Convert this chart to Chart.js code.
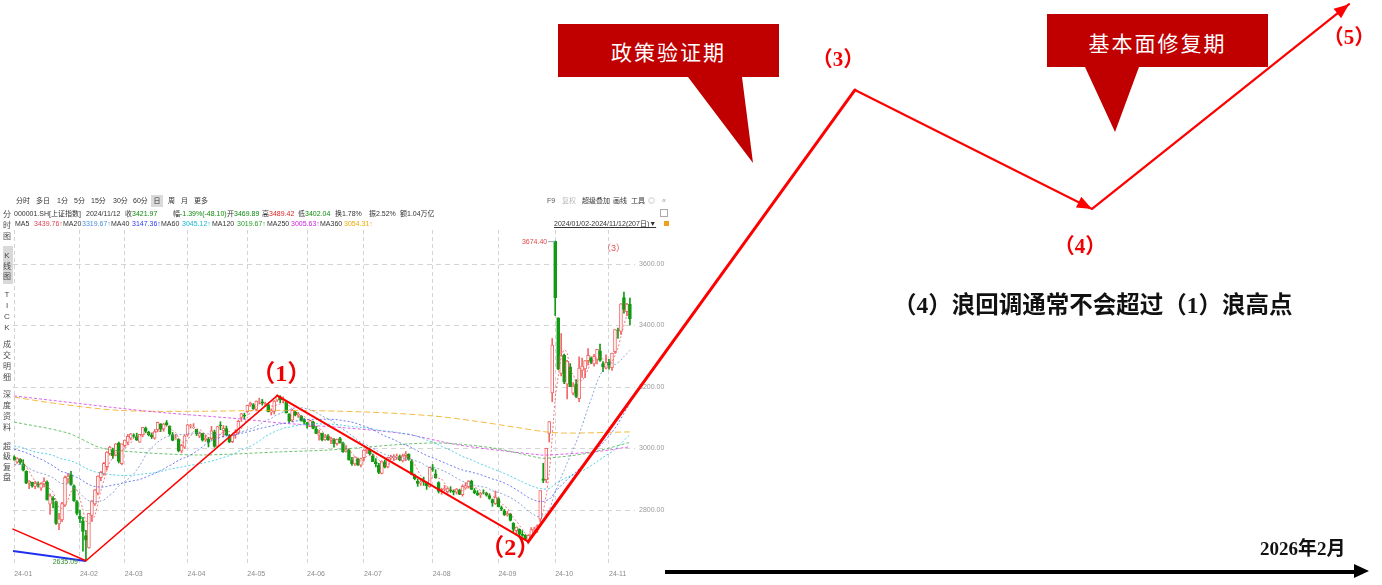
<!DOCTYPE html>
<html lang="zh-CN">
<head>
<meta charset="utf-8">
<title>上证指数 波浪走势</title>
<script src="https://cdn.jsdelivr.net/npm/chart.js@4.4.1/dist/chart.umd.min.js"></script>
<style>
  html, body { margin: 0; padding: 0; background: #fff; }
  #stage { position: relative; width: 1382px; height: 585px; overflow: hidden; font-family: "Noto Sans CJK SC", sans-serif; }
  canvas { position: absolute; left: 0; top: 0; }
  #panel { z-index: 1; }
  #wave { z-index: 3; pointer-events: none; }
  .t { position: absolute; white-space: nowrap; font-family: "Liberation Sans", "Noto Sans CJK SC", sans-serif; font-size: 7px; line-height: 10px; color: #333; z-index: 2; }
  .g { color: #0a8a0a; }
  .r { color: #e02020; }
  .tab { position: absolute; left: 1px; width: 12px; text-align: center; font-family: "Liberation Sans", "Noto Sans CJK SC", sans-serif; font-size: 8px; color: #4a4a4a; z-index: 2; }
  .bubble { position: absolute; background: #c00000; z-index: 4; }
  .bubble span { position: absolute; left: 0; width: 100%; text-align: center; color: #fff; font-size: 21px; letter-spacing: 2px; line-height: 24px; }
  .tag { position: absolute; white-space: nowrap; font-family: "Liberation Serif", "Noto Sans CJK SC", serif; font-weight: bold; color: #111; z-index: 4; }
</style>
</head>
<body>
<div id="stage">
  <canvas id="panel" width="680" height="585"></canvas>
  <canvas id="wave" width="1382" height="585"></canvas>

  <!-- 周期切换 -->
  <div class="t" style="left:16px;top:196px">分时</div>
  <div class="t" style="left:36px;top:196px">多日</div>
  <div class="t" style="left:57px;top:196px">1分</div>
  <div class="t" style="left:74px;top:196px">5分</div>
  <div class="t" style="left:91px;top:196px">15分</div>
  <div class="t" style="left:113px;top:196px">30分</div>
  <div class="t" style="left:133px;top:196px">60分</div>
  <div class="t" style="left:151px;top:195px;width:12px;height:12px;background:#dadada;text-align:center;line-height:12px">日</div>
  <div class="t" style="left:168px;top:196px">周</div>
  <div class="t" style="left:181px;top:196px">月</div>
  <div class="t" style="left:194px;top:196px">更多</div>
  <div class="t" style="left:547px;top:196px;color:#555">F9</div>
  <div class="t" style="left:562px;top:196px;color:#bbb">复权</div>
  <div class="t" style="left:582px;top:196px">超级叠加</div>
  <div class="t" style="left:613px;top:196px">画线</div>
  <div class="t" style="left:631px;top:196px">工具</div>
  <div class="t" style="left:648px;top:196px;color:#aaa">◎</div>
  <div class="t" style="left:662px;top:196px;color:#999">«</div>

  <!-- 行情信息 -->
  <div class="t" style="left:14px;top:209px">000001.SH[上证指数]</div>
  <div class="t" style="left:86px;top:209px">2024/11/12</div>
  <div class="t" style="left:125px;top:209px">收<span class="g">3421.97</span></div>
  <div class="t" style="left:173px;top:209px">幅<span class="g">-1.39%(-48.10)</span></div>
  <div class="t" style="left:227px;top:209px">开<span class="g">3469.89</span></div>
  <div class="t" style="left:262px;top:209px">高<span class="r">3489.42</span></div>
  <div class="t" style="left:298px;top:209px">低<span class="g">3402.04</span></div>
  <div class="t" style="left:335px;top:209px">换1.78%</div>
  <div class="t" style="left:369px;top:209px">振2.52%</div>
  <div class="t" style="left:400px;top:209px">额1.04万亿</div>
  <div class="t" style="left:660px;top:209px;width:6px;height:6px;border:1px solid #aaa"></div>

  <!-- 均线数值 -->
  <div class="t" style="left:15px;top:219px">MA5</div>
  <div class="t" style="left:34px;top:219px;color:#e04050">3439.76↑</div>
  <div class="t" style="left:63px;top:219px">MA20</div>
  <div class="t" style="left:82px;top:219px;color:#4a8fd8">3319.67↑</div>
  <div class="t" style="left:111px;top:219px">MA40</div>
  <div class="t" style="left:132px;top:219px;color:#2b3cf0">3147.36↑</div>
  <div class="t" style="left:161px;top:219px">MA60</div>
  <div class="t" style="left:182px;top:219px;color:#18b8d8">3045.12↑</div>
  <div class="t" style="left:212px;top:219px">MA120</div>
  <div class="t" style="left:237px;top:219px;color:#2aa02a">3019.67↑</div>
  <div class="t" style="left:267px;top:219px">MA250</div>
  <div class="t" style="left:291px;top:219px;color:#cc22dd">3005.63↑</div>
  <div class="t" style="left:320px;top:219px">MA360</div>
  <div class="t" style="left:344px;top:219px;color:#f0a800">3054.31↑</div>
  <div class="t" style="left:554px;top:219px;text-decoration:underline">2024/01/02-2024/11/12(207日)▼</div>
  <div class="t" style="left:664px;top:221px;width:5px;height:5px;background:#f0a020"></div>
  <div class="t" style="left:602px;top:243px;font-size:9px;color:#e05050">（3）</div>

  <!-- 左侧标签 -->
  <div class="tab" style="top:209px;line-height:11px">分<br>时<br>图</div>
  <div style="position:absolute;left:3px;top:246px;width:10px;height:38px;background:#d9d9d9;z-index:1"></div>
  <div class="tab" style="top:251px;line-height:10.5px">K<br>线<br>图</div>
  <div class="tab" style="top:289px;line-height:11px">T<br>I<br>C<br>K</div>
  <div class="tab" style="top:339px;line-height:11px">成<br>交<br>明<br>细</div>
  <div class="tab" style="top:389px;line-height:11px">深<br>度<br>资<br>料</div>
  <div class="tab" style="top:442px;line-height:10.4px">超<br>级<br>复<br>盘</div>

  <!-- 提示框 -->
  <div class="bubble" style="left:558px;top:24px;width:221px;height:139px;clip-path:polygon(0 0,221px 0,221px 53px,184px 53px,195px 139px,130px 53px,0 53px)">
    <span style="top:15px">政策验证期</span>
  </div>
  <div class="bubble" style="left:1047px;top:14px;width:221px;height:118px;clip-path:polygon(0 0,221px 0,221px 53px,92px 53px,68px 118px,38px 53px,0 53px)">
    <span style="top:16px">基本面修复期</span>
  </div>

  <div class="tag" style="left:893px;top:290px;font-size:23.5px;line-height:30px">（4）浪回调通常不会超过（1）浪高点</div>
  <div class="tag" style="left:1260px;top:537px;font-size:19px;line-height:24px">2026年2月</div>

  <!-- 时间轴箭头 -->
  <div style="position:absolute;left:665px;top:569.5px;width:692px;height:4px;background:#000;z-index:4"></div>
  <div style="position:absolute;left:1354px;top:564px;width:0;height:0;border-left:15px solid #000;border-top:7.5px solid transparent;border-bottom:7.5px solid transparent;z-index:4"></div>
</div>

<script>
// 上证指数 2023年10-12月收盘价（用于计算2024年初的均线）
const prevCloses = [
  3075.24, 3075.20, 3078.96, 3107.90, 3088.10, 3073.81, 3083.50, 3058.71, 3005.39, 2983.06,
  2939.29, 2962.24, 2974.08, 2988.30, 3017.78, 3021.55, 3018.77,
  3023.08, 3009.41, 3030.80, 3058.41, 3057.27, 3052.37, 3053.28, 3038.97, 3046.53, 3056.07,
  3072.83, 3050.93, 3054.37, 3068.32, 3067.93, 3043.61, 3061.86, 3040.97, 3031.70, 3038.55,
  3021.69, 3029.67,
  3031.64, 3022.91, 2972.30, 2968.93, 2966.21, 2969.56, 2991.44, 3003.02, 2968.76, 2958.99,
  2942.56, 2930.80, 2932.39, 2902.11, 2918.71, 2914.78, 2918.81, 2898.87, 2914.61, 2954.70,
  2974.93
];

// 2024/01/02-2024/11/12 日K [开, 高, 低, 收]
const candles = [
  // 1月
  [2972.8,2976.3,2962.3,2962.28],[2955.2,2970.0,2952.0,2967.25],[2966.0,2967.0,2949.0,2954.35],
  [2950.0,2963.0,2927.0,2929.18],[2926.0,2927.0,2886.0,2887.54],[2888.0,2896.0,2869.0,2893.25],
  [2890.0,2891.0,2874.0,2877.70],[2877.0,2894.0,2869.0,2886.65],[2883.0,2892.0,2874.0,2881.98],
  [2871.0,2889.0,2864.0,2886.29],[2884.0,2905.0,2875.0,2893.99],[2890.0,2895.0,2832.0,2833.62],
  [2819.0,2853.0,2786.0,2845.78],[2838.0,2844.0,2807.0,2832.28],[2827.0,2829.0,2753.0,2756.34],
  [2755.0,2789.0,2736.0,2770.98],[2768.0,2825.0,2762.0,2820.77],[2816.0,2910.0,2812.0,2906.11],
  [2901.0,2919.0,2887.0,2910.22],[2914.0,2926.0,2881.0,2883.36],[2879.0,2882.0,2828.0,2830.53],
  [2827.0,2831.0,2784.0,2788.55],
  // 2月
  [2780.0,2800.0,2759.0,2770.74],[2765.0,2776.0,2666.0,2730.15],[2717.0,2734.0,2635.09,2702.19],
  [2677.0,2789.0,2676.0,2789.49],[2782.0,2831.0,2763.0,2829.70],[2820.0,2867.0,2815.0,2865.90],
  [2855.0,2911.0,2849.0,2910.54],[2905.0,2926.0,2895.0,2922.73],[2917.0,2955.0,2913.0,2951.82],
  [2941.0,2990.0,2930.0,2988.36],[2983.0,3007.0,2978.0,3004.88],[2996.0,3001.0,2968.0,2977.02],
  [2978.0,3016.0,2976.0,3015.48],[3018.0,3021.0,2953.0,2957.85],[2951.0,3015.0,2947.0,3015.17],
  // 3月
  [3009.0,3028.0,3005.0,3027.02],[3020.0,3046.0,3013.0,3039.93],[3034.0,3049.0,3028.0,3047.79],
  [3042.0,3048.0,3036.0,3039.90],[3039.0,3050.0,3026.0,3027.40],[3021.0,3046.0,3020.0,3046.02],
  [3044.0,3068.0,3038.0,3068.46],[3066.0,3070.0,3051.0,3055.94],[3053.0,3056.0,3041.0,3043.83],
  [3044.0,3050.0,3032.0,3038.23],[3034.0,3062.0,3030.0,3054.64],[3061.0,3086.0,3054.0,3084.93],
  [3080.0,3081.0,3055.0,3062.76],[3063.0,3082.0,3056.0,3079.69],[3084.0,3091.0,3075.0,3077.11],
  [3073.0,3074.0,3043.0,3048.03],[3045.0,3052.0,3025.0,3026.31],[3031.0,3046.0,3030.0,3031.48],
  [3031.0,3032.0,2989.0,2993.14],[2992.0,3014.0,2986.0,3010.66],[3004.0,3044.0,3000.0,3041.17],
  // 4月
  [3044.0,3079.0,3040.0,3077.38],[3073.0,3079.0,3066.0,3074.96],[3068.0,3081.0,3065.0,3069.30],
  [3062.0,3063.0,3042.0,3047.05],[3040.0,3054.0,3035.0,3048.54],[3049.0,3049.0,3024.0,3027.33],
  [3028.0,3044.0,3023.0,3034.25],[3031.0,3036.0,3005.0,3019.47],[3032.0,3072.0,3028.0,3057.38],
  [3054.0,3060.0,3004.0,3007.07],[3007.0,3072.0,3005.0,3071.38],[3076.0,3087.0,3061.0,3074.23],
  [3058.0,3075.0,3037.0,3065.26],[3065.0,3073.0,3042.0,3044.60],[3043.0,3046.0,3019.0,3021.98],
  [3022.0,3046.0,3019.0,3044.82],[3044.0,3061.0,3033.0,3052.90],[3052.0,3092.0,3048.0,3088.64],
  [3101.0,3114.0,3088.0,3113.04],[3108.0,3115.0,3096.0,3104.82],
  // 5月
  [3120.0,3141.0,3117.0,3140.72],[3142.0,3151.0,3137.0,3147.74],[3143.0,3146.0,3127.0,3128.48],
  [3127.0,3155.0,3122.0,3154.32],[3154.0,3164.0,3145.0,3154.55],[3152.0,3160.0,3141.0,3148.02],
  [3145.0,3151.0,3136.0,3145.77],[3143.0,3146.0,3119.0,3119.90],[3118.0,3129.0,3109.0,3122.40],
  [3121.0,3156.0,3112.0,3154.03],[3157.0,3174.27,3153.0,3171.15],[3168.0,3172.0,3149.0,3157.97],
  [3157.0,3168.0,3148.0,3158.54],[3153.0,3156.0,3115.0,3116.39],[3113.0,3113.0,3085.0,3088.87],
  [3092.0,3127.0,3087.0,3124.04],[3119.0,3121.0,3106.0,3109.57],[3108.0,3118.0,3101.0,3111.02],
  [3106.0,3107.0,3089.0,3091.68],[3093.0,3097.0,3081.0,3086.81],
  // 6月
  [3084.0,3085.0,3066.0,3078.49],[3071.0,3092.0,3071.0,3091.20],[3087.0,3089.0,3064.0,3065.40],
  [3064.0,3072.0,3048.0,3048.79],[3043.0,3060.0,3027.0,3051.28],[3049.0,3050.0,3025.0,3028.05],
  [3028.0,3045.0,3026.0,3037.47],[3041.0,3045.0,3026.0,3028.92],[3026.0,3037.0,3016.0,3032.63],
  [3029.0,3032.0,3004.0,3015.89],[3016.0,3031.0,3011.0,3030.25],[3032.0,3036.0,3017.0,3018.05],
  [3018.0,3021.0,2987.0,2989.88],[2991.0,3009.0,2988.0,2998.14],[2995.0,2998.0,2962.0,2963.10],
  [2962.0,2971.0,2945.0,2950.00],[2950.0,2973.0,2945.0,2972.53],[2966.0,2969.0,2945.0,2945.85],
  [2946.0,2969.0,2940.0,2967.40],
  // 7月
  [2970.0,2996.0,2960.0,2994.73],[2993.0,3001.0,2984.0,2997.01],[2994.0,2999.0,2980.0,2982.38],
  [2976.0,2982.0,2957.0,2957.57],[2957.0,2967.0,2940.0,2949.93],[2945.0,2952.0,2918.0,2922.45],
  [2919.0,2960.0,2917.0,2959.37],[2956.0,2963.0,2937.0,2939.36],[2940.0,2972.0,2937.0,2970.39],
  [2970.0,2978.0,2964.0,2971.30],[2970.0,2980.0,2961.0,2974.01],[2973.0,2982.0,2965.0,2976.30],
  [2974.0,2979.0,2960.0,2962.80],[2960.0,2982.0,2956.0,2977.13],[2977.0,2990.0,2960.0,2982.31],
  [2981.0,2983.0,2962.0,2964.22],[2960.0,2964.0,2914.0,2915.37],[2913.0,2917.0,2898.0,2901.95],
  [2893.0,2901.0,2877.0,2886.43],[2887.0,2903.0,2880.0,2890.90],[2896.0,2907.0,2880.0,2891.85],
  [2887.0,2891.0,2867.0,2879.30],[2876.0,2939.0,2874.0,2938.75],
  // 8月
  [2935.0,2948.0,2926.0,2932.39],[2918.0,2931.0,2903.0,2905.34],[2889.0,2892.0,2855.0,2860.70],
  [2861.0,2871.0,2851.0,2867.28],[2867.0,2880.0,2862.0,2869.83],[2860.0,2873.0,2855.0,2869.90],
  [2866.0,2876.0,2857.0,2862.19],[2862.0,2865.0,2849.0,2858.20],[2858.0,2870.0,2852.0,2867.95],
  [2865.0,2868.0,2850.0,2850.65],[2850.0,2882.0,2845.0,2877.36],[2871.0,2889.0,2870.0,2879.43],
  [2876.0,2896.0,2871.0,2893.67],[2893.0,2897.0,2866.0,2866.66],[2863.0,2870.0,2853.0,2856.58],
  [2856.0,2863.0,2847.0,2848.77],[2849.0,2858.0,2840.0,2854.37],[2856.0,2866.0,2852.0,2855.52],
  [2854.0,2858.0,2845.0,2848.32],[2847.0,2853.0,2835.0,2837.43],[2834.0,2836.0,2812.0,2823.11],
  [2821.0,2862.0,2818.0,2842.21],
  // 9月
  [2837.0,2840.0,2810.0,2811.04],[2808.0,2813.0,2798.0,2802.98],[2797.0,2802.0,2782.0,2784.28],
  [2784.0,2796.0,2780.0,2788.22],[2787.0,2789.0,2764.0,2765.81],[2757.0,2759.0,2728.0,2736.49],
  [2733.0,2745.0,2718.0,2744.19],[2737.0,2739.0,2715.0,2721.80],[2721.0,2733.0,2714.0,2717.12],
  [2718.0,2720.0,2703.0,2704.09],[2697.0,2718.0,2689.70,2717.28],[2717.0,2743.0,2712.0,2736.02],
  [2735.0,2744.0,2729.0,2736.81],[2736.0,2752.0,2727.0,2748.92],[2770.0,2863.0,2763.0,2863.13],
  [2901.0,2952.0,2889.0,2896.31],[2899.0,3001.0,2889.0,3000.95],[3049.0,3087.5,3021.0,3087.53],
  [3181.0,3358.0,3152.0,3336.50],
  // 10月
  [3674.40,3674.40,3432.36,3489.78],[3425.0,3425.0,3256.0,3258.86],[3244.0,3374.0,3236.0,3301.93],
  [3304.0,3307.0,3211.0,3217.74],[3209.0,3287.0,3161.0,3284.32],[3266.0,3276.0,3201.0,3201.29],
  [3180.0,3214.0,3174.0,3202.95],[3210.0,3224.0,3165.0,3169.38],[3162.0,3298.0,3152.0,3261.56],
  [3254.0,3294.0,3231.0,3268.11],[3259.0,3286.0,3230.0,3285.87],[3286.0,3325.0,3271.0,3302.80],
  [3293.0,3298.0,3276.0,3280.26],[3275.0,3306.0,3268.0,3299.70],[3290.0,3322.0,3275.0,3322.20],
  [3318.0,3340.0,3283.0,3286.41],[3276.0,3283.0,3250.0,3266.24],[3261.0,3305.0,3259.0,3279.82],
  // 11月
  [3280.0,3290.0,3258.0,3272.01],[3263.0,3310.0,3254.0,3310.21],[3315.0,3387.0,3309.0,3386.99],
  [3384.0,3392.0,3358.0,3383.81],[3381.0,3471.0,3371.0,3470.66],[3491.0,3509.0,3440.0,3452.30],
  [3445.0,3472.0,3432.0,3470.07],[3469.89,3489.42,3402.04,3421.97]
];

// 月份刻度（交易日序号）
const monthStarts = [0, 22, 37, 58, 78, 98, 117, 140, 162, 181, 199];
const monthLabels = ['24-01', '24-02', '24-03', '24-04', '24-05', '24-06', '24-07', '24-08', '24-09', '24-10', '24-11'];
const priceTicks = [2800, 3000, 3200, 3400, 3600];

// 长周期均线（按交易日取样）
const ma120Days = [0, 18, 29, 40, 62, 89, 105, 140, 160, 176, 179, 192, 206];
const ma120Vals = [3086, 3050, 3002, 2989, 2979, 2989, 2995, 3018, 3002, 2969, 2969, 2985, 3020];
const ma250Days = [0, 44, 76, 89, 99, 129, 149, 176, 179, 195, 206];
const ma250Vals = [3171, 3122, 3096, 3083, 3076, 3050, 3011, 2979, 2979, 2990, 3006];
const ma360Days = [0, 15, 35, 60, 89, 117, 140, 155, 169, 178, 185, 206];
const ma360Vals = [3167, 3145, 3124, 3121, 3124, 3119, 3106, 3088, 3067, 3054, 3050, 3054];

// 软件里画的下降趋势线
const trendDays = [-0.4, 24];
const trendVals = [2667, 2634];

// 波浪走势 起点、低点、(1)~(5)
const waveDays = [-0.4, 24, 88, 172, 281.3, 360.6, 446.6];
const waveVals = [2738, 2635, 3172, 2697, 4166, 3779, 4445];
const waveTags = ['', '', '（1）', '（2）', '（3）', '（4）', '（5）'];

// 样式
const waveWidths = [1.5, 1.6, 2, 3, 2.2, 2.2];
const tagShift = [[0, 0], [0, 0], [4, -21], [-18, 7], [-17, -29], [-12, 39], [0, 34]];
const tagSize = [0, 0, 24, 24, 21, 21, 21];
const arrowAt = [5, 6];
const upColor = '#f26868';
const downColor = '#129a12';

/* 均线计算 */
const allCloses = prevCloses.concat(candles.map(c => c[3]));

function movingAverage(n) {
  let out = [];
  candles.forEach((c, i) => {
    let j = i + prevCloses.length;
    let sum = 0;
    for (let k = j - n + 1; k <= j; k++) sum += allCloses[k];
    out.push({ x: i, y: sum / n });
  });
  return out;
}

function pairs(days, vals) {
  return days.map((d, i) => ({ x: d, y: vals[i] }));
}

function maLine(label, data, color, dash) {
  return {
    type: 'line', label: label, data: data, order: 0,
    borderColor: color, borderWidth: 1, borderDash: dash,
    pointRadius: 0, tension: 0.3, fill: false
  };
}

const rising = candles.map(c => c[3] >= c[0]);

/* 最高、最低价标注 */
const hiLoLabels = {
  id: 'hiLoLabels',
  afterDatasetsDraw(chart) {
    const { ctx } = chart;
    const x = chart.scales.x, y = chart.scales.y;
    let hi = 0, lo = 0;
    candles.forEach((c, i) => {
      if (c[1] > candles[hi][1]) hi = i;
      if (c[2] < candles[lo][2]) lo = i;
    });
    ctx.save();
    ctx.font = '7px "Liberation Sans", sans-serif';
    ctx.textBaseline = 'middle';
    ctx.textAlign = 'right';
    let hx = x.getPixelForValue(hi), hy = y.getPixelForValue(candles[hi][1]);
    ctx.fillStyle = '#e04848';
    ctx.fillText(candles[hi][1].toFixed(2), hx - 8, hy + 1);
    ctx.strokeStyle = '#8fa3b8';
    ctx.lineWidth = 1;
    ctx.beginPath();
    ctx.moveTo(hx - 7, hy + 0.5);
    ctx.lineTo(hx, hy + 0.5);
    ctx.stroke();
    let lx = x.getPixelForValue(lo), ly = y.getPixelForValue(candles[lo][2]);
    ctx.fillStyle = '#2e8b2e';
    ctx.fillText(candles[lo][2].toFixed(2), lx - 8, ly + 1);
    ctx.restore();
  }
};

Chart.defaults.font.family = '"Liberation Sans", "Noto Sans CJK SC", sans-serif';

const panel = new Chart(document.getElementById('panel'), {
  type: 'bar',
  data: {
    datasets: [
      maLine('MA5', movingAverage(5), 'rgba(232,90,100,0.8)', [2, 2]),
      maLine('MA20', movingAverage(20), 'rgba(110,140,200,0.8)', [2, 2]),
      maLine('MA40', movingAverage(40), 'rgba(60,80,240,0.75)', [2, 2]),
      maLine('MA60', movingAverage(60), 'rgba(40,195,225,0.8)', [2, 2]),
      maLine('MA120', pairs(ma120Days, ma120Vals), 'rgba(60,175,60,0.75)', [3, 2]),
      maLine('MA250', pairs(ma250Days, ma250Vals), 'rgba(210,50,230,0.75)', [3, 2]),
      maLine('MA360', pairs(ma360Days, ma360Vals), 'rgba(240,170,20,0.8)', [6, 3]),
      {
        type: 'line', label: 'trend', data: pairs(trendDays, trendVals), order: 0,
        borderColor: '#2030f0', borderWidth: 2, pointRadius: 0
      },
      {
        label: 'body', order: 1, grouped: false, barThickness: 3,
        data: candles.map((c, i) => ({ x: i, y: [c[0], c[3]] })),
        backgroundColor: rising.map(u => u ? '#ffffff' : downColor),
        borderColor: rising.map(u => u ? upColor : downColor),
        borderWidth: 1, borderSkipped: false
      },
      {
        label: 'wick', order: 2, grouped: false, barThickness: 1,
        data: candles.map((c, i) => ({ x: i, y: [c[2], c[1]] })),
        backgroundColor: rising.map(u => u ? upColor : downColor),
        borderWidth: 0
      }
    ]
  },
  options: {
    responsive: false,
    animation: false,
    devicePixelRatio: 1,
    layout: { padding: { left: 13, top: 230, right: 0, bottom: 0 } },
    plugins: { legend: { display: false }, tooltip: { enabled: false } },
    scales: {
      x: {
        type: 'linear', min: -0.4, max: 207.7, offset: false,
        grid: { offset: false, color: '#d4d4d4', drawTicks: false },
        border: { display: false, dash: [4, 3] },
        afterBuildTicks: s => { s.ticks = monthStarts.map(v => ({ value: v })); },
        afterFit: s => { s.height = 19; },
        ticks: {
          autoSkip: false, maxRotation: 0, align: 'start', padding: 4,
          color: '#8a8a8a', font: { size: 7 },
          callback: (v, i) => monthLabels[i]
        }
      },
      y: {
        type: 'linear', position: 'right', min: 2617.9, max: 3710.6,
        grid: { color: '#d4d4d4', drawTicks: false },
        border: { display: false, dash: [5, 4] },
        afterBuildTicks: s => { s.ticks = priceTicks.map(v => ({ value: v })); },
        afterFit: s => { s.width = 45; },
        ticks: {
          padding: 4, color: '#9a9a9a', font: { size: 7 },
          callback: v => Number(v).toFixed(2)
        }
      }
    }
  },
  plugins: [hiLoLabels]
});

/* 波浪走势：沿用K线图的坐标，向右延伸 */
const px = panel.scales.x, py = panel.scales.y;
const waveCanvas = document.getElementById('wave');

const waveMarks = {
  id: 'waveMarks',
  afterDatasetsDraw(chart) {
    const { ctx } = chart;
    const pts = chart.getDatasetMeta(0).data;
    ctx.save();
    ctx.fillStyle = '#ff0000';
    arrowAt.forEach(k => {
      let a = pts[k - 1], b = pts[k];
      let ang = Math.atan2(b.y - a.y, b.x - a.x);
      ctx.beginPath();
      ctx.moveTo(b.x, b.y);
      ctx.lineTo(b.x - 15 * Math.cos(ang) + 6 * Math.sin(ang), b.y - 15 * Math.sin(ang) - 6 * Math.cos(ang));
      ctx.lineTo(b.x - 15 * Math.cos(ang) - 6 * Math.sin(ang), b.y - 15 * Math.sin(ang) + 6 * Math.cos(ang));
      ctx.closePath();
      ctx.fill();
    });
    ctx.textAlign = 'center';
    ctx.textBaseline = 'middle';
    ctx.fillStyle = '#f00000';
    waveTags.forEach((tag, i) => {
      if (!tag) return;
      ctx.font = 'bold ' + tagSize[i] + 'px "Liberation Serif", "Noto Sans CJK SC", serif';
      ctx.fillText(tag, pts[i].x + tagShift[i][0], pts[i].y + tagShift[i][1]);
    });
    ctx.restore();
  }
};

new Chart(waveCanvas, {
  type: 'scatter',
  data: {
    datasets: [{
      data: pairs(waveDays, waveVals),
      showLine: true,
      borderColor: '#ff0000',
      borderWidth: 2,
      pointRadius: 0,
      borderCapStyle: 'round',
      segment: { borderWidth: c => waveWidths[c.p0DataIndex] }
    }]
  },
  options: {
    responsive: false,
    animation: false,
    devicePixelRatio: 1,
    layout: { padding: 0 },
    plugins: { legend: { display: false }, tooltip: { enabled: false } },
    scales: {
      x: { type: 'linear', display: false, min: px.getValueForPixel(0), max: px.getValueForPixel(waveCanvas.width) },
      y: { type: 'linear', display: false, min: py.getValueForPixel(waveCanvas.height), max: py.getValueForPixel(0) }
    }
  },
  plugins: [waveMarks]
});
</script>
</body>
</html>
